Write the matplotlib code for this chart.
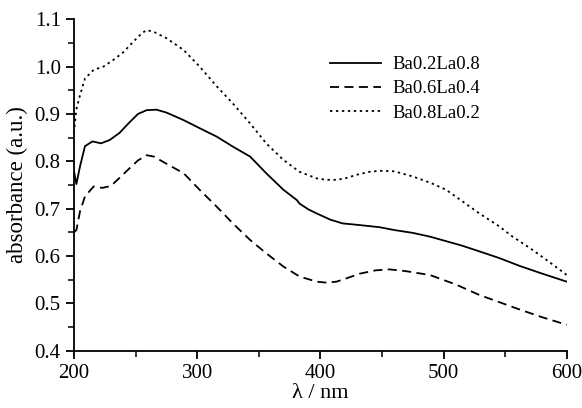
import matplotlib
matplotlib.use("Agg")
import matplotlib.pyplot as plt
from matplotlib.ticker import MultipleLocator, FormatStrFormatter

plt.rcParams["font.family"] = ["Liberation Serif", "DejaVu Serif"]

# wavelength (nm) and absorbance
wl_a = [200, 202, 205, 209, 215, 222, 229, 237, 245, 252, 259, 267, 275, 289, 302,
        316, 329, 343, 356, 370, 381, 383, 390, 397, 408, 418, 430, 448, 460, 475,
        489, 500, 515, 529, 545, 562, 580, 600]
abs_a = [0.78, 0.752, 0.79, 0.832, 0.842, 0.838, 0.845, 0.86, 0.882, 0.9, 0.908, 0.909,
         0.903, 0.887, 0.87, 0.852, 0.831, 0.81, 0.775, 0.74, 0.718, 0.711, 0.699,
         0.69, 0.677, 0.669, 0.666, 0.661, 0.655, 0.649, 0.641, 0.633, 0.622, 0.61,
         0.596, 0.579, 0.563, 0.546]

wl_b = [200, 202, 205, 209, 216, 223, 230, 237, 245, 252, 259, 265, 275, 289, 302,
        316, 329, 343, 356, 370, 383, 397, 405, 413, 420, 432, 445, 456, 470, 489,
        510, 529, 545, 562, 580, 600]
abs_b = [0.65, 0.655, 0.695, 0.726, 0.747, 0.744, 0.748, 0.765, 0.785, 0.802, 0.813,
         0.81, 0.795, 0.775, 0.74, 0.704, 0.669, 0.634, 0.606, 0.578, 0.557, 0.546,
         0.544, 0.546, 0.552, 0.563, 0.57, 0.572, 0.568, 0.56, 0.54, 0.518, 0.503,
         0.487, 0.471, 0.455]

wl_c = [200, 202, 205, 209, 216, 224, 232, 240, 248, 255, 259, 265, 275, 289, 302,
        316, 329, 343, 356, 370, 383, 397, 405, 413, 420, 430, 440, 448, 460, 475,
        490, 502, 515, 529, 545, 556, 570, 585, 600]
abs_c = [0.86, 0.91, 0.94, 0.975, 0.993, 1.0, 1.014, 1.03, 1.052, 1.07, 1.077, 1.073,
         1.06, 1.035, 1.0, 0.958, 0.922, 0.88, 0.838, 0.803, 0.778, 0.764, 0.761,
         0.761, 0.764, 0.772, 0.778, 0.78, 0.779, 0.768, 0.754, 0.74, 0.716, 0.69,
         0.663, 0.641, 0.617, 0.589, 0.56]

labels = ["Ba0.2La0.8", "Ba0.6La0.4", "Ba0.8La0.2"]

fig = plt.figure(figsize=(5.82, 4.08), dpi=100)
ax = fig.add_axes([0.127, 0.14, 0.847, 0.813])

ax.plot(wl_a, abs_a, color="black", lw=1.3, label=labels[0])
ax.plot(wl_b, abs_b, color="black", lw=1.3, dashes=(5, 3), label=labels[1])
ax.plot(wl_c, abs_c, color="black", lw=1.3, dashes=(1.3, 2), label=labels[2])

ax.set_xlim(200, 600)
ax.set_ylim(0.4, 1.1)
ax.xaxis.set_major_locator(MultipleLocator(100))
ax.xaxis.set_minor_locator(MultipleLocator(50))
ax.yaxis.set_major_locator(MultipleLocator(0.1))
ax.yaxis.set_minor_locator(MultipleLocator(0.05))
ax.yaxis.set_major_formatter(FormatStrFormatter("%.1f"))

for side in ("top", "right"):
    ax.spines[side].set_visible(False)
for side in ("left", "bottom"):
    ax.spines[side].set_linewidth(1.3)
ax.tick_params(which="major", direction="out", length=6, width=1.3, labelsize=15)
ax.tick_params(which="minor", direction="out", length=4, width=1.1)

ax.set_xlabel("λ / nm", fontsize=16, labelpad=1)
ax.set_ylabel("absorbance (a.u.)", fontsize=16.5, labelpad=5)

ax.legend(loc="upper left", bbox_to_anchor=(0.52, 0.889), frameon=False,
          borderpad=0, borderaxespad=0, fontsize=13.5, handlelength=2.7,
          handletextpad=0.6, labelspacing=0.38)

fig.savefig("out.png", dpi=100)
